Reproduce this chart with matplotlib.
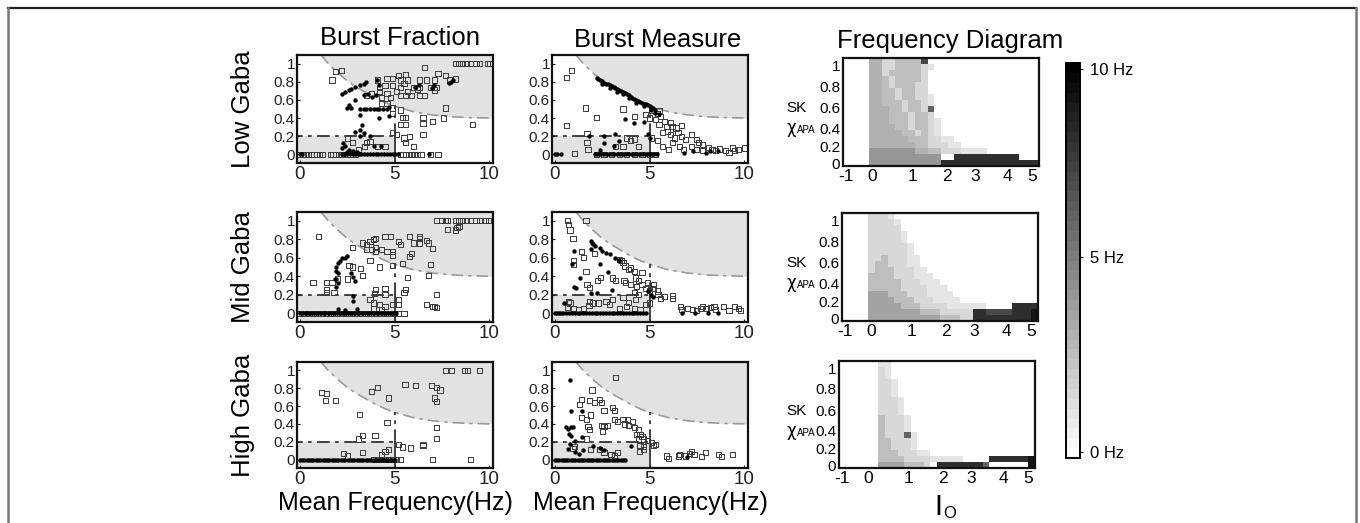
import numpy as np
import matplotlib
matplotlib.use('Agg')
import matplotlib.pyplot as plt
from matplotlib.colors import LinearSegmentedColormap
from matplotlib.lines import Line2D

plt.rcParams['font.family'] = ['Liberation Sans', 'DejaVu Sans']

W, H = 1360, 523

# ---------------- labels ----------------
row_labels = ['Low Gaba', 'Mid Gaba', 'High Gaba']
col_titles = ['Burst Fraction', 'Burst Measure', 'Frequency Diagram']
freq_ticks = [0, 5, 10]
y_ticks = [0, 0.2, 0.4, 0.6, 0.8, 1]
y_ticklabels = ['0', '0.2', '0.4', '0.6', '0.8', '1']
io_ticklabels = ['-1', '0', '1', '2', '3', '4', '5']
sk_ticklabels = ['0', '0.2', '0.4', '0.6', '0.8', '1']
cbar_ticklabels = ['0 Hz', '5 Hz', '10 Hz']

# boundary of the upper shaded region, lower box limits
curve_x = [1.1, 1.5, 2.0, 2.5, 3.0, 3.5, 4.0, 4.5, 5.0, 6.0, 7.0, 8.0, 9.0, 10.2]
curve_y = [1.10, 1.0, 0.90, 0.81, 0.74, 0.68, 0.62, 0.57, 0.53, 0.47, 0.435, 0.415, 0.405, 0.40]
box_x = 5.0
box_y = 0.2
curve_at_box = 0.53

# ---------------- Burst Fraction, Low Gaba ----------------
bf_low_sq_x = [8.2, 8.4, 8.6, 8.8, 9.0, 9.3, 9.5, 9.9, 10.0, 6.6, 1.9, 2.2, 1.7,
               4.1, 4.6, 4.9, 5.2, 5.6, 5.3, 5.5, 5.7, 6.3, 6.7, 7.1, 7.3, 7.7, 7.9, 8.2,
               4.2, 4.5, 4.9, 5.3, 6.0, 6.3, 6.9, 7.2, 4.2, 4.6, 5.1, 5.7, 6.2, 7.1,
               4.8, 5.3, 5.6, 5.9, 6.3, 6.6, 4.3, 3.8, 3.5, 4.3, 4.6, 4.9, 5.3, 4.9, 5.4,
               5.6, 6.5, 7.0, 7.7, 7.6, 9.1, 5.3, 5.6, 6.5, 4.9, 5.1, 5.5, 5.8, 6.5, 3.5,
               3.7, 4.1, 4.5, 5.6, 6.0, 2.5, 2.8, 3.4, 3.1]
bf_low_sq_y = [1, 1, 1, 1, 1, 1, 1, 1, 1, 0.96, 0.91, 0.92, 0.82,
               0.82, 0.84, 0.84, 0.87, 0.88, 0.82, 0.78, 0.82, 0.82, 0.82, 0.82, 0.89, 0.87, 0.82, 0.83,
               0.74, 0.76, 0.76, 0.74, 0.74, 0.74, 0.74, 0.74, 0.69, 0.67, 0.69, 0.69, 0.72, 0.71,
               0.63, 0.65, 0.65, 0.65, 0.65, 0.65, 0.63, 0.67, 0.65, 0.56, 0.56, 0.51, 0.49, 0.45, 0.41,
               0.41, 0.41, 0.36, 0.51, 0.40, 0.33, 0.33, 0.33, 0.34, 0.24, 0.22, 0.18, 0.20, 0.22, 0.13,
               0.14, 0.09, 0.09, 0.13, 0.09, 0.18, 0.13, 0.09, 0.05]
bf_low_sq0_x = [0.0, 0.15, 0.3, 0.45, 0.6, 0.75, 0.9, 1.05, 1.2, 1.6, 1.75, 1.9, 2.05,
                2.2, 2.35, 2.5, 2.65, 2.8, 2.95, 5.3, 5.45, 5.6, 5.75, 5.9, 6.05, 6.2,
                6.4, 6.9, 7.3]
bf_low_dot_x = [2.2, 2.4, 2.6, 2.7, 2.9, 3.2, 3.4, 3.5, 4.1, 4.2, 3.4, 3.6, 3.8, 4.0,
                6.1, 6.3, 7.0, 7.1, 7.9, 8.0, 8.1, 2.9, 2.6, 2.5, 2.7, 3.2, 3.4, 3.5,
                3.7, 3.9, 4.1, 4.2, 4.4, 4.6, 4.7, 3.2, 4.2, 4.7, 3.3, 3.2, 2.9, 3.4,
                3.2, 3.7, 2.3, 2.4, 2.2, 2.6, 2.8, 3.9, 4.3, 2.5, 2.7, 3.0]
bf_low_dot_y = [0.66, 0.69, 0.71, 0.72, 0.74, 0.76, 0.78, 0.80, 0.82, 0.76, 0.65, 0.66, 0.63, 0.65,
                0.74, 0.76, 0.73, 0.76, 0.79, 0.80, 0.82, 0.60, 0.54, 0.51, 0.51, 0.50, 0.50, 0.50,
                0.50, 0.50, 0.50, 0.50, 0.50, 0.50, 0.52, 0.43, 0.40, 0.42, 0.32, 0.27, 0.25, 0.24,
                0.20, 0.20, 0.13, 0.09, 0.07, 0.05, 0.04, 0.09, 0.09, 0.03, 0.02, 0.03]
bf_low_dot0_x = [0.0, 0.1, 2.2, 2.35, 2.5, 2.65, 2.8, 2.95, 3.1, 3.25, 3.4, 3.55, 3.7,
                 3.85, 4.0, 4.15, 4.3, 4.45, 4.6, 4.75, 4.9, 5.05, 5.2, 6.8]

# ---------------- Burst Measure, Low Gaba ----------------
bm_low_sq_x = [0.9, 0.6, 1.6, 2.2, 0.6, 1.05, 1.7, 1.7, 1.75, 3.6, 4.2, 4.0, 4.2, 4.4,
               3.6, 3.2, 3.8, 4.8, 5.1, 5.4, 5.5, 5.0, 5.3, 5.6, 5.8, 5.5, 5.9, 6.1, 6.2,
               6.4, 6.7, 5.96, 5.7, 6.1, 6.5, 6.3, 6.7, 6.9, 7.2, 7.5, 7.6, 7.8, 8.1, 8.3,
               8.7, 9.0, 9.4, 9.7, 10.0, 9.2, 8.5, 9.5, 6.2, 6.6, 6.8, 7.2, 5.4, 5.1, 5.7,
               6.0, 7.5, 7.8]
bm_low_sq_y = [0.92, 0.85, 0.51, 0.41, 0.32, 0.01, 0.23, 0.13, 0.05, 0.50, 0.42, 0.15, 0.17, 0.09,
               0.09, 0.09, 0.18, 0.44, 0.49, 0.45, 0.48, 0.40, 0.38, 0.42, 0.36, 0.33, 0.31, 0.35, 0.31,
               0.29, 0.32, 0.25, 0.24, 0.22, 0.24, 0.18, 0.20, 0.16, 0.22, 0.16, 0.13, 0.11, 0.08, 0.05,
               0.06, 0.04, 0.07, 0.05, 0.07, 0.02, 0.04, 0.04, 0.13, 0.09, 0.05, 0.09, 0.15, 0.18, 0.09,
               0.05, 0.05, 0.04]
bm_low_sq0_x = [2.2, 2.6, 3.0, 3.4, 3.8, 4.2, 4.6, 5.0, 5.3]
bm_low_dot_x = [2.2, 2.3, 2.4, 2.5, 2.6, 2.7, 2.8, 2.9, 3.0, 3.1, 3.2, 3.3, 3.4, 3.5, 3.6,
                3.7, 3.8, 3.9, 4.0, 4.1, 4.2, 4.3, 4.4, 4.5, 4.6, 4.7, 4.8, 4.9, 5.0, 5.1,
                5.2, 5.3, 2.5, 2.9, 3.3, 3.6, 3.9, 4.3, 4.7, 5.1, 5.3, 5.5,
                3.7, 4.2, 4.7, 1.8, 2.6, 3.2, 2.6, 3.1, 3.4, 2.4, 4.9, 5.0,
                6.8, 7.3, 8.0, 8.2, 8.6]
bm_low_dot_y = [0.84, 0.83, 0.82, 0.81, 0.79, 0.78, 0.77, 0.76, 0.75, 0.74, 0.73, 0.72, 0.71, 0.70, 0.69,
                0.68, 0.66, 0.65, 0.63, 0.62, 0.61, 0.60, 0.59, 0.58, 0.57, 0.56, 0.55, 0.54, 0.53, 0.52,
                0.51, 0.49, 0.78, 0.73, 0.69, 0.66, 0.62, 0.57, 0.53, 0.49, 0.46, 0.44,
                0.39, 0.35, 0.36, 0.20, 0.20, 0.22, 0.13, 0.09, 0.15, 0.05, 0.22, 0.18,
                0.02, 0.04, 0.01, 0.04, 0.04]
bm_low_dot0_x = [0.0, 0.1, 0.3, 2.1, 2.25, 2.4, 2.55, 2.7, 2.85, 3.0, 3.15, 3.3, 3.45, 3.6,
                 3.75, 3.9, 4.05, 4.2, 4.35, 4.5, 4.65, 4.8, 4.95, 5.1, 5.25, 5.4]

# ---------------- Burst Fraction, Mid Gaba ----------------
bf_mid_sq_x = [7.2, 7.5, 7.7, 7.8, 8.2, 8.4, 8.6, 8.8, 9.0, 9.3, 9.5, 9.8, 9.95,
               7.8, 8.2, 8.3, 8.4, 1.0, 3.3, 3.5, 3.7, 3.9, 4.0, 4.5, 4.8, 3.5, 3.8, 4.0,
               4.3, 4.0, 4.6, 4.9, 4.9, 5.2, 5.3, 5.8, 6.3, 6.3, 6.0, 6.3, 6.7, 6.8, 7.0,
               5.9, 5.8, 5.4, 4.9, 4.2, 3.7, 3.2, 2.8, 2.6, 2.8, 6.9, 5.7, 6.8, 3.3, 2.5,
               2.0, 1.7, 1.4, 0.7, 1.4, 1.4, 1.8, 4.0, 4.5, 3.96, 4.5, 5.6, 5.5, 5.2, 7.2,
               3.7, 3.9, 4.2, 3.9, 4.3, 4.5, 4.9, 5.2, 5.5, 6.7, 7.0, 7.2, 7.1]
bf_mid_sq_y = [1, 1, 1, 1, 1, 1, 1, 1, 1, 1, 1, 1, 1,
               0.91, 0.90, 0.93, 0.94, 0.83, 0.76, 0.74, 0.78, 0.80, 0.81, 0.83, 0.83, 0.69, 0.69, 0.67,
               0.69, 0.71, 0.67, 0.67, 0.63, 0.78, 0.74, 0.83, 0.83, 0.81, 0.76, 0.76, 0.79, 0.76, 0.70,
               0.65, 0.61, 0.54, 0.52, 0.50, 0.57, 0.48, 0.50, 0.52, 0.71, 0.53, 0.39, 0.41, 0.41, 0.37,
               0.37, 0.33, 0.33, 0.33, 0.26, 0.22, 0.22, 0.26, 0.27, 0.21, 0.20, 0.26, 0.22, 0.15, 0.20,
               0.15, 0.11, 0.09, 0.05, 0.04, 0.07, 0.09, 0.09, 0.0, 0.09, 0.07, 0.06, 0.07]
bf_mid_sq0_x = [0.0, 0.2, 0.4, 0.6, 0.8, 1.0, 1.2, 1.4, 1.6, 1.8, 2.0, 2.2, 2.4, 2.6,
                2.8, 3.0, 3.2, 3.4, 3.6, 3.8, 4.0, 4.2, 4.4, 4.6, 4.8, 5.0, 5.2]
bf_mid_dot_x = [2.2, 2.1, 2.0, 1.9, 1.9, 2.0, 1.9, 2.0, 1.9, 2.4, 2.5, 1.85,
                2.7, 2.8, 2.9, 2.8, 2.8, 3.0, 2.0, 2.4]
bf_mid_dot_y = [0.60, 0.57, 0.54, 0.50, 0.46, 0.43, 0.37, 0.33, 0.28, 0.60, 0.62, 0.37,
                0.44, 0.39, 0.35, 0.19, 0.13, 0.05, 0.05, 0.04]
bf_mid_dot0_x = [0.0, 0.15, 0.3, 0.45, 0.6, 0.75, 0.9, 1.05, 1.2, 1.35, 1.5, 1.65, 1.8,
                 1.95, 2.1, 2.25, 2.4, 2.55, 2.7, 2.85, 3.0, 3.15, 3.3, 3.45, 3.6, 3.75,
                 3.9, 4.05, 4.2, 4.35, 4.5, 4.65, 4.8, 4.95, 5.1]

# ---------------- Burst Measure, Mid Gaba ----------------
bm_mid_sq_x = [0.65, 0.74, 0.8, 0.96, 1.65, 1.4, 1.5, 1.0, 1.0, 1.65, 2.1, 1.7, 1.85, 2.25,
               2.4, 3.05, 3.2, 3.4, 3.5, 3.6, 3.7, 3.9, 4.0, 4.2, 3.65, 3.75, 4.0, 4.25, 4.4,
               4.3, 4.6, 4.6, 4.8, 4.9, 5.2, 5.2, 5.0, 5.4, 5.45, 5.6, 5.8, 6.2, 6.2, 5.0,
               4.8, 4.2, 4.4, 4.25, 3.9, 3.6, 3.05, 2.7, 2.3, 2.0, 1.8, 1.5, 1.25, 1.0,
               0.8, 0.74, 0.65, 1.85, 2.9, 3.4, 3.8, 4.2, 4.5,
               6.65, 6.7, 7.0, 7.25, 7.5, 7.7, 7.8, 8.0, 8.2, 8.4, 8.5, 8.9, 9.2, 9.5, 9.7, 9.8]
bm_mid_sq_y = [1.0, 0.96, 0.90, 0.81, 1.0, 0.67, 0.60, 0.57, 0.53, 0.45, 0.65, 0.31, 0.28, 0.35,
               0.39, 0.38, 0.35, 0.58, 0.57, 0.55, 0.51, 0.47, 0.49, 0.45, 0.35, 0.33, 0.31, 0.38, 0.35,
               0.29, 0.31, 0.44, 0.27, 0.33, 0.31, 0.27, 0.25, 0.24, 0.20, 0.16, 0.18, 0.19, 0.16, 0.11,
               0.09, 0.22, 0.20, 0.15, 0.12, 0.17, 0.15, 0.13, 0.11, 0.11, 0.08, 0.05, 0.04, 0.05,
               0.11, 0.13, 0.06, 0.13, 0.09, 0.05, 0.07, 0.05, 0.04,
               0.07, 0.04, 0.05, 0.04, 0.03, 0.05, 0.07, 0.05, 0.06, 0.07, 0.04, 0.07, 0.03, 0.07, 0.05, 0.03]
bm_mid_dot_x = [0.5, 0.9, 1.0, 1.1, 1.9, 1.95, 2.0, 2.1, 2.4, 2.5, 2.7, 2.9, 3.2, 3.4,
                2.4, 2.8, 3.4, 1.35, 1.0, 1.9, 2.2, 3.0, 4.9, 5.1, 5.2, 1.9]
bm_mid_dot_y = [0.11, 0.53, 0.67, 0.27, 0.78, 0.76, 0.75, 0.73, 0.71, 0.67, 0.65, 0.64, 0.60, 0.58,
                0.53, 0.45, 0.56, 0.38, 0.28, 0.22, 0.22, 0.25, 0.24, 0.20, 0.18, 0.70]
bm_mid_dot0_x = [0.0, 0.1, 0.2, 0.3, 0.45, 0.6, 0.75, 0.9, 1.05, 1.2, 1.35, 1.5, 1.65,
                 1.8, 1.95, 2.1, 2.25, 2.4, 2.55, 2.7, 2.85, 3.0, 3.15, 3.3, 3.45, 3.6,
                 3.75, 3.9, 4.05, 4.2, 4.35, 4.5, 4.65, 4.8, 6.7, 7.4, 8.1, 8.6]

# ---------------- Burst Fraction, High Gaba ----------------
bf_high_sq_x = [7.7, 8.0, 8.7, 8.85, 9.5, 5.55, 6.1, 6.95, 7.2, 7.4, 7.1, 7.2, 4.7, 3.8,
                4.1, 1.13, 1.4, 1.36, 1.9, 3.15, 4.6, 7.2, 7.2, 3.1, 3.3, 3.97, 4.7, 4.5,
                4.3, 2.3, 2.5, 3.3, 5.2, 5.4, 5.85, 6.5, 7.0, 9.0, 6.5]
bf_high_sq_y = [1, 1, 1, 1, 1, 0.84, 0.83, 0.83, 0.81, 0.78, 0.69, 0.65, 0.69, 0.76,
                0.81, 0.75, 0.74, 0.66, 0.66, 0.51, 0.42, 0.36, 0.24, 0.23, 0.27, 0.27, 0.11, 0.09,
                0.05, 0.07, 0.04, 0.08, 0.17, 0.14, 0.13, 0.16, 0.0, 0.0, 0.17]
bf_high_sq0_x = [3.9, 4.1, 4.3, 4.5, 4.7, 4.9, 5.1, 5.3]
bf_high_dot0_x = [0.0, 0.12, 0.24, 0.36, 0.48, 0.6, 0.72, 0.84, 0.96, 1.08, 1.2, 1.32,
                  1.44, 1.56, 1.68, 1.8, 1.92, 2.04, 2.16, 2.28, 2.4, 2.52, 2.64, 2.76,
                  2.88, 3.0, 3.12, 3.24, 3.36, 3.48, 3.6, 3.72, 3.84, 3.96, 4.08, 4.2,
                  4.32, 4.44, 4.56, 4.68, 4.8, 4.92, 5.04]

# ---------------- Burst Measure, High Gaba ----------------
bm_high_sq_x = [3.2, 1.96, 1.4, 1.84, 2.1, 2.36, 2.45, 1.3, 2.6, 3.06, 3.15, 1.4, 1.66, 1.9,
                3.15, 3.3, 3.6, 3.85, 4.1, 3.67, 3.9, 4.2, 4.4, 4.5, 4.6, 4.7, 4.9, 5.1, 5.2,
                5.3, 4.7, 4.5, 4.4, 4.3, 2.45, 2.6, 1.75, 1.84, 2.5, 2.8, 1.66, 0.96, 1.05,
                1.9, 2.36, 2.6, 2.97, 3.3, 3.15, 4.45, 4.7,
                5.9, 6.0, 6.55, 6.6, 6.9, 7.1, 7.2, 7.35, 7.75, 7.95, 8.65, 8.8, 9.4]
bm_high_sq_y = [0.92, 0.78, 0.67, 0.66, 0.64, 0.67, 0.64, 0.62, 0.55, 0.58, 0.55, 0.47, 0.45, 0.50,
                0.45, 0.43, 0.45, 0.45, 0.43, 0.40, 0.38, 0.36, 0.34, 0.28, 0.26, 0.23, 0.21, 0.19, 0.16,
                0.17, 0.15, 0.16, 0.23, 0.28, 0.38, 0.37, 0.37, 0.34, 0.32, 0.38, 0.23, 0.12, 0.15,
                0.11, 0.11, 0.08, 0.06, 0.08, 0.04, 0.09, 0.11,
                0.04, 0.01, 0.04, 0.06, 0.04, 0.07, 0.09, 0.06, 0.03, 0.08, 0.06, 0.03, 0.06]
bm_high_dot_x = [0.82, 0.87, 1.43, 0.6, 0.7, 0.87, 0.96, 0.75, 0.87, 1.43, 1.05, 0.79,
                 0.7, 1.49, 2.0, 2.36, 2.6, 4.0, 7.0, 1.05, 1.3]
bm_high_dot_y = [0.89, 0.55, 0.55, 0.36, 0.34, 0.36, 0.36, 0.29, 0.26, 0.25, 0.21, 0.17,
                 0.12, 0.11, 0.15, 0.13, 0.11, 0.15, 0.03, 0.08, 0.06]
bm_high_dot0_x = [0.0, 0.12, 0.24, 0.36, 0.48, 0.6, 0.72, 0.84, 0.96, 1.08, 1.2, 1.32,
                  1.44, 1.56, 1.68, 1.8, 1.92, 2.04, 2.16, 2.28, 2.4, 2.52, 2.64, 2.76,
                  2.88, 3.0, 3.12, 3.24, 3.36, 3.48, 3.6, 3.72]

# ---------------- Frequency diagrams ----------------
# each character is one cell in half-Hz units (base 36: '6' = 3 Hz, 'g' = 8 Hz), '.' = empty
freq_low = [
    "....66335555e",
    "....6633555532",
    "....663555553",
    "....665355553",
    "....665355533",
    "....665535533",
    "....6655355332",
    "....6655535532",
    "....666553553c",
    "....6665553553",
    "....66655535532",
    "....66665535532",
    "....66666553532",
    "....6666665553322",
    "....66666665533322",
    "....888888866553332222",
    "....8888888888800gggggggggg000",
    "....88888888888ggggggggggggggg",
]
freq_mid = [
    "....3332",
    "....33332",
    "....33333",
    "....333332",
    "....333332",
    "....3333332",
    "....3333332",
    "....33533322",
    "....35533322",
    "....355533322",
    "....5555333222",
    "....55555333222",
    "....555553333222",
    "....7775553332222",
    "....77775553332222",
    "....777775553333222222....gggg",
    "....7777777755533333ggeeeegggi",
    "....7777777777755533gggggggggi",
]
freq_high = [
    "......22",
    "......32",
    "......32",
    "......332",
    "......332",
    "......332",
    "......3332",
    "......3332",
    "......3332",
    "......53332",
    "......53332",
    "......53332",
    "......5333c2",
    "......553332",
    "......553332",
    "......55533322",
    "......5555333322222....ggggggi",
    "......777755530gggggggc000000i",
]
freq_maps = [freq_low, freq_mid, freq_high]

io_tick_pos = [0.46, 4.44, 10.6, 15.9, 20.2, 25.1, 28.9]
sk_tick_pos = [0.4, 3.2, 6.3, 9.7, 13.3, 16.7]

# ---------------- layout (pixels) ----------------
row_px = [(55, 163), (212, 322), (362, 468)]
hm_px = [(843, 58, 166), (842, 213, 321), (839, 361, 468)]
bf_left, bm_left, ax_w = 297, 552, 196
shade = '#e2e2e2'


def px_axes(fig, left, top, bottom, width):
    return fig.add_axes([left / W, 1 - bottom / H, width / W, (bottom - top) / H])


fig = plt.figure(figsize=(W / 100, H / 100), dpi=100)

# outer frame
fig.add_artist(Line2D([8 / W, 1356 / W], [1 - 8 / H, 1 - 8 / H], color='#222222', lw=1.6))
fig.add_artist(Line2D([8 / W, 8 / W], [0, 1 - 8 / H], color='#777777', lw=1.8))
fig.add_artist(Line2D([1356 / W, 1356 / W], [0, 1 - 8 / H], color='#777777', lw=1.8))

scatter_sets = [
    [(bf_low_sq_x, bf_low_sq_y, bf_low_sq0_x, bf_low_dot_x, bf_low_dot_y, bf_low_dot0_x),
     (bm_low_sq_x, bm_low_sq_y, bm_low_sq0_x, bm_low_dot_x, bm_low_dot_y, bm_low_dot0_x)],
    [(bf_mid_sq_x, bf_mid_sq_y, bf_mid_sq0_x, bf_mid_dot_x, bf_mid_dot_y, bf_mid_dot0_x),
     (bm_mid_sq_x, bm_mid_sq_y, [], bm_mid_dot_x, bm_mid_dot_y, bm_mid_dot0_x)],
    [(bf_high_sq_x, bf_high_sq_y, bf_high_sq0_x, [], [], bf_high_dot0_x),
     (bm_high_sq_x, bm_high_sq_y, [], bm_high_dot_x, bm_high_dot_y, bm_high_dot0_x)],
]

cmap = LinearSegmentedColormap.from_list('wb', ['#ffffff', '#000000'], N=40)
mesh = None
dash = (0, (7, 3, 2, 3))

for r in range(3):
    top, bot = row_px[r]
    for c, left in enumerate([bf_left, bm_left]):
        ax = px_axes(fig, left, top, bot, ax_w)
        sx, sy, s0x, dx, dy, d0x = scatter_sets[r][c]
        ax.set_xlim(-0.15, 10.2)
        ax.set_ylim(-0.095, 1.095)
        ylo, yhi = ax.get_ylim()
        # shaded regions
        ax.fill_between(curve_x, curve_y, yhi + 0.1, color=shade, lw=0, zorder=0)
        ax.fill_between([-0.5, box_x], [ylo - 0.1] * 2, [box_y] * 2, color=shade, lw=0, zorder=0)
        ax.plot(curve_x, curve_y, color='#9a9a9a', lw=1.2, ls=dash, zorder=1)
        ax.plot([-0.5, box_x], [box_y, box_y], color='#333333', lw=1.3, ls=dash, zorder=1)
        ax.plot([box_x, box_x], [ylo, box_y], color='#333333', lw=1.3, zorder=1)
        ax.plot([box_x, box_x], [box_y, curve_at_box], color='#333333', lw=1.3, ls=dash, zorder=1)
        # points
        ax.scatter(d0x, [0.0] * len(d0x), s=10, c='black', lw=0, zorder=3)
        ax.scatter(dx, dy, s=10, c='black', lw=0, zorder=3)
        ax.scatter(s0x, [0.0] * len(s0x), s=14, marker='s', facecolors='none',
                   edgecolors='#3a3a3a', lw=0.7, zorder=2)
        ax.scatter(sx, sy, s=14, marker='s', facecolors='none', edgecolors='#3a3a3a',
                   lw=0.7, zorder=2)
        ax.set_xticks(freq_ticks)
        ax.set_xticklabels([str(t) for t in freq_ticks], fontsize=13.5)
        ax.set_yticks(y_ticks)
        ax.set_yticklabels(y_ticklabels, fontsize=11)
        ax.tick_params(direction='in', length=2.5, width=0.8, pad=2, colors='#222222')
        ax.tick_params(axis='y', pad=1.5)
        for sp in ax.spines.values():
            sp.set_linewidth(1.6)
            sp.set_color('#111111')
        if r == 2:
            ax.set_xlabel('Mean Frequency(Hz)', fontsize=18, labelpad=2)

    # heat map
    hl, ht, hb = hm_px[r]
    ax = px_axes(fig, hl, ht, hb, 196)
    vals = np.full((18, 30), np.nan)
    for i, s in enumerate(freq_maps[r]):
        for j, ch in enumerate(s[:30]):
            if ch != '.':
                vals[17 - i, j] = int(ch, 36) / 2.0
    mesh = ax.pcolormesh(np.arange(31), np.arange(19), np.ma.masked_invalid(vals),
                         cmap=cmap, vmin=0, vmax=10, shading='flat')
    ax.set_xlim(0, 30)
    ax.set_ylim(0, 18)
    ax.set_xticks(io_tick_pos)
    ax.set_xticklabels(io_ticklabels, fontsize=12.5)
    ax.set_yticks(sk_tick_pos)
    ax.set_yticklabels(sk_ticklabels, fontsize=11)
    ax.tick_params(length=0, pad=2)
    for sp in ax.spines.values():
        sp.set_linewidth(1.6)
        sp.set_color('#111111')
    fig.text(796 / W, 1 - (ht + 50) / H, 'SK', fontsize=11, ha='center', va='center')
    fig.text(791 / W, 1 - (ht + 70) / H, 'χ', fontsize=12, ha='center', va='center',
             family=['DejaVu Sans'])
    fig.text(806 / W, 1 - (ht + 72) / H, 'APA', fontsize=7, ha='center', va='center')
    if r == 2:
        fig.text(938 / W, 1 - 507 / H, 'I', fontsize=21, ha='center', va='center')
        fig.text(943 / W, 1 - 514 / H, 'O', fontsize=12, ha='left', va='center')

    # row label
    fig.text(243 / W, 1 - (top + bot) / 2 / H, row_labels[r], fontsize=18.5,
             rotation=90, ha='center', va='center')

# column titles
fig.text(400 / W, 1 - 38 / H, col_titles[0], fontsize=18.5, ha='center', va='center')
fig.text(658 / W, 1 - 40 / H, col_titles[1], fontsize=18.5, ha='center', va='center')
fig.text(950 / W, 1 - 41 / H, col_titles[2], fontsize=18.5, ha='center', va='center')

# colorbar
cax = fig.add_axes([1066 / W, 1 - 458 / H, 14 / W, 395 / H])
cb = fig.colorbar(mesh, cax=cax, ticks=[0.15, 5.1, 9.85])
cb.ax.set_yticklabels(cbar_ticklabels, fontsize=12)
cb.ax.tick_params(length=2, width=0.8, pad=5)
cb.outline.set_linewidth(1.4)

fig.savefig('out.png', dpi=100)
